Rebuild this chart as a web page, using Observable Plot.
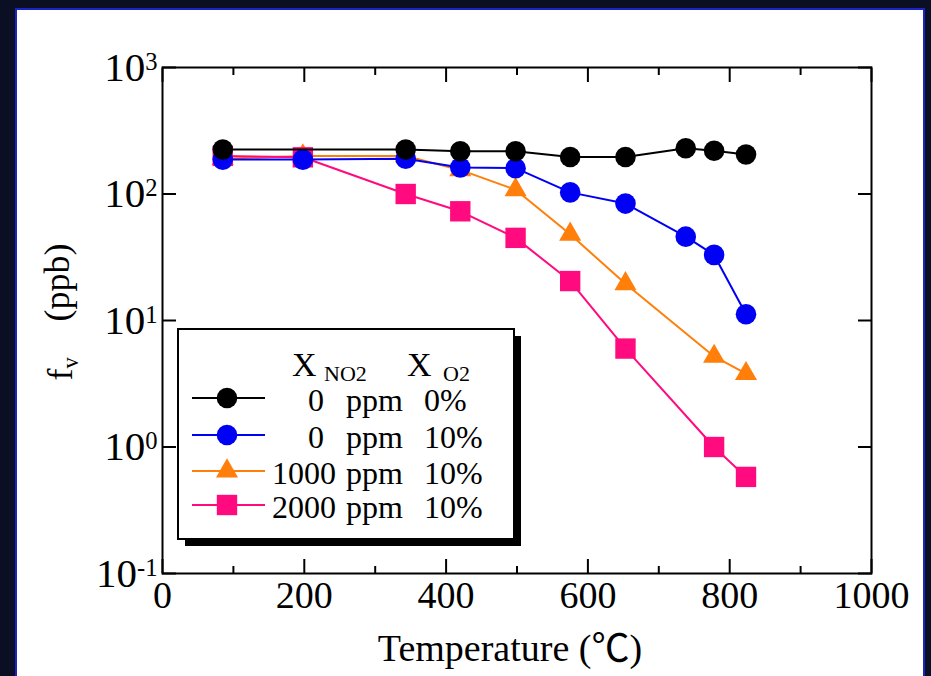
<!DOCTYPE html>
<html><head><meta charset="utf-8">
<script src="https://cdn.jsdelivr.net/npm/d3@7"></script>
<script src="https://cdn.jsdelivr.net/npm/@observablehq/plot@0.6"></script>
<style>
html,body{margin:0;padding:0;width:931px;height:676px;overflow:hidden;background:#0a0f24;}
#panel{position:absolute;left:15px;top:8px;width:906px;height:670px;background:#fff;border:2px solid #1d22c4;border-bottom:none;}
#chart{position:absolute;left:0;top:0;width:931px;height:676px;}
</style></head><body>
<div id="panel"></div>
<div id="chart"></div>
<script>
// ---- data ----
const blackT  = [85, 343, 420, 498, 575, 653, 738, 778, 823];
const blackV  = [225, 225, 218, 218, 196, 196, 230, 220, 205];
const blueT   = [85, 198, 343, 420, 498, 575, 653, 738, 778, 823];
const blueV   = [187, 187, 190, 162, 160, 103, 84, 46, 33, 11.2];
const orangeT = [85, 198, 343, 420, 498, 575, 653, 778, 823];
const orangeV = [190, 200, 200, 155, 108, 48, 19.5, 5.2, 3.8];
const pinkT   = [85, 198, 343, 420, 498, 575, 653, 778, 823];
const pinkV   = [200, 195, 100, 73, 45, 20.5, 6.0, 1.0, 0.58];

const seriesNames = ["0  ppm  0%", "0  ppm  10%", "1000 ppm 10%", "2000 ppm 10%"];
const xMajorTicks = [0, 200, 400, 600, 800, 1000];
const xMinorTicks = [100, 300, 500, 700, 900];
const yTicks = [0.1, 1, 10, 100, 1000];
const xTitle = "Temperature (\u2103)";

// ---- styling ----
const series = [
  {name: seriesNames[2], T: orangeT, V: orangeV, color: "#ff7f0a", symbol: "triangle", r: 8.2},
  {name: seriesNames[3], T: pinkT,   V: pinkV,   color: "#ff0a7f", symbol: "square",   r: 11.5},
  {name: seriesNames[1], T: blueT,   V: blueV,   color: "#0000f5", symbol: "circle",   r: 10.3},
  {name: seriesNames[0], T: blackT,  V: blackV,  color: "#000000", symbol: "circle",   r: 10.3}
];

const marks = [];
for (const s of series) {
  const data = s.T.map((t, i) => ({t, v: s.V[i]}));
  marks.push(Plot.line(data, {x: "t", y: "v", stroke: s.color, strokeWidth: 2}));
  marks.push(Plot.dot(data, {x: "t", y: "v", fill: s.color, symbol: s.symbol, r: s.r, stroke: "none"}));
}

const blank = () => "";
const svg = Plot.plot({
  width: 931, height: 676,
  marginLeft: 162, marginRight: 60, marginTop: 67, marginBottom: 103,
  style: {background: "none", fontFamily: "'Liberation Serif', 'Times New Roman', serif", fontSize: "38px", color: "#000"},
  x: {domain: [0, 1000]},
  y: {type: "log", domain: [0.1, 1000]},
  marks: [
    ...marks,
    Plot.axisX({anchor: "bottom", ticks: xMajorTicks, tickSize: -14, tickPadding: 22, strokeWidth: 2, tickFormat: d => String(d), label: null, fontSize: 38}),
    Plot.axisX({anchor: "bottom", ticks: xMinorTicks, tickSize: -7, strokeWidth: 2, tickFormat: blank, label: null}),
    Plot.axisX({anchor: "top", ticks: xMajorTicks, tickSize: -14, strokeWidth: 2, tickFormat: blank, label: null}),
    Plot.axisX({anchor: "top", ticks: xMinorTicks, tickSize: -7, strokeWidth: 2, tickFormat: blank, label: null}),
    Plot.axisY({anchor: "left", ticks: yTicks, tickSize: -14, tickPadding: 19, strokeWidth: 2, tickFormat: d => "10^" + Math.round(Math.log10(d)), label: null, fontSize: 41}),
    Plot.axisY({anchor: "right", ticks: yTicks, tickSize: -14, strokeWidth: 2, tickFormat: blank, label: null}),
    Plot.frame({stroke: "#000", strokeWidth: 2})
  ]
});
document.getElementById("chart").appendChild(svg);

const S = d3.select(svg);
// superscript exponents on y tick labels
S.selectAll('g[aria-label="y-axis tick label"] text').each(function () {
  const s = this.textContent;
  if (!s.includes("^")) return;
  const e = s.split("^")[1];
  const sel = d3.select(this);
  sel.text(null);
  sel.append("tspan").text("10");
  sel.append("tspan").attr("dy", "-0.45em").attr("font-size", "0.6em").text(e);
});

// axis titles
S.append("text")
  .attr("x", 510).attr("y", 661)
  .attr("text-anchor", "middle")
  .attr("font-family", "'Liberation Serif', 'Noto Sans CJK JP', serif")
  .attr("font-size", 38)
  .text(xTitle);

const yt = S.append("text")
  .attr("transform", "translate(72,312) rotate(-90)")
  .attr("text-anchor", "middle")
  .attr("font-family", "'Liberation Serif', serif")
  .attr("font-size", 36);
yt.append("tspan").text("f");
yt.append("tspan").attr("dy", "0.25em").attr("font-size", "0.62em").text("v");
yt.append("tspan").attr("dy", "-0.25em").text("\u00a0\u00a0\u00a0\u00a0(ppb)");

// legend
const L = S.append("g").attr("font-family", "'Liberation Serif', serif").attr("text-anchor", "start");
L.append("rect").attr("x", 185).attr("y", 336).attr("width", 336).attr("height", 210).attr("fill", "#000");
L.append("rect").attr("x", 178).attr("y", 329).attr("width", 336).attr("height", 210).attr("fill", "#fff").attr("stroke", "#000").attr("stroke-width", 2);
const hdr = L.append("text").attr("font-size", 34);
hdr.append("tspan").attr("x", 292).attr("y", 376).text("X");
hdr.append("tspan").attr("x", 324).attr("y", 381).attr("font-size", 22).text("NO2");
hdr.append("tspan").attr("x", 407).attr("y", 376).text("X");
hdr.append("tspan").attr("x", 443).attr("y", 381).attr("font-size", 22).text("O2");

const order = [3, 2, 0, 1]; // index into series: black, blue, orange, pink
const rowY = [398, 435, 471, 505];
const numX = [308, 308, 272, 272];
order.forEach((si, k) => {
  const s = series[si];
  const y = rowY[k];
  L.append("line").attr("x1", 192).attr("x2", 265).attr("y1", y).attr("y2", y).attr("stroke", s.color).attr("stroke-width", 2);
  const sym = {circle: d3.symbolCircle, triangle: d3.symbolTriangle, square: d3.symbolSquare}[s.symbol];
  L.append("path").attr("d", d3.symbol(sym, Math.PI * s.r * s.r)()).attr("transform", `translate(227,${y})`).attr("fill", s.color);
  const parts = s.name.split(/\s+/);
  const t = L.append("text").attr("font-size", 32);
  t.append("tspan").attr("x", numX[k]).attr("y", y + 13).text(parts[0]);
  t.append("tspan").attr("x", 346).attr("y", y + 13).text(parts[1]);
  t.append("tspan").attr("x", 424).attr("y", y + 13).text(parts[2]);
});
</script>
</body></html>
